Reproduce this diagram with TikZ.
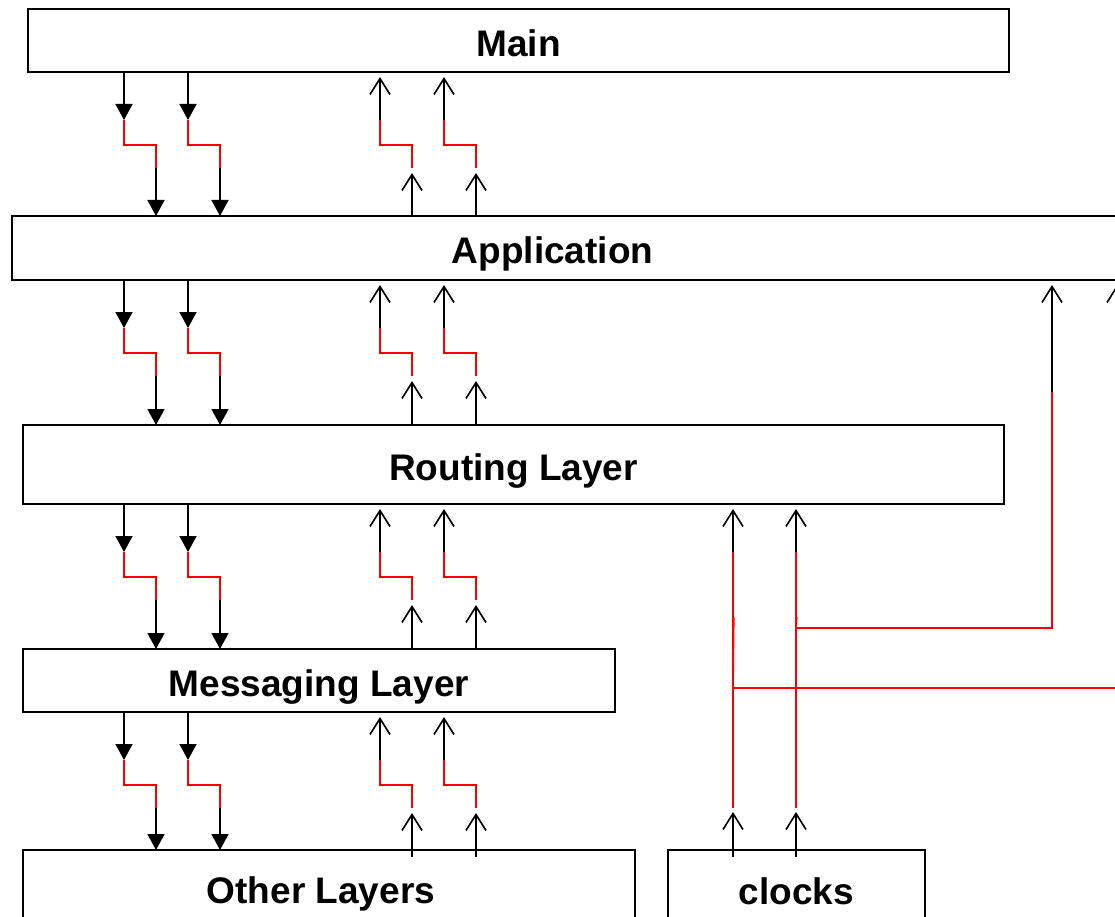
\documentclass[tikz,border=0pt]{standalone}
\usepackage{fontspec}
\setmainfont{Liberation Sans}
\usetikzlibrary{arrows.meta,calc}

\begin{document}
\begin{tikzpicture}[x=1pt,y=-1pt,
  txt/.style={font=\fontsize{37}{40}\selectfont\bfseries, text height=31.5pt, text depth=0pt},
  box/.style={draw, line width=2.6pt, inner sep=0pt, outer sep=0pt, txt},
  lbl/.style={inner sep=0pt, txt},
  wire/.style={line width=1.6pt, line cap=butt},
  port/.style={wire, red},
  dnarrow/.style={wire, -{Triangle[length=16pt,width=17pt]}},
  uparrow/.style={wire, -{Straight Barb[length=16pt,width=20pt,line width=1.6pt]}},
]
\useasboundingbox (0,0) rectangle (1115,917);
\clip (0,0) rectangle (1115,917);

% layer boxes
\node[box, minimum width=981pt, minimum height=63pt] (main) at (518.5,40.5) {Main};
\node[box, minimum width=1128pt, minimum height=64pt] (app) at (576,248) {};
\node[lbl] (apptxt) at (552.5,248) {Application};
\node[box, minimum width=981pt, minimum height=79pt] (route) at (513.5,464.5) {Routing Layer};
\node[box, minimum width=592pt, minimum height=63pt] (msg) at (319,680.5) {Messaging Layer};
\node[box, minimum width=612pt, minimum height=80pt] (other) at (329,890) {};
\node[lbl] (othertxt) at (321,887.5) {Other Layers};
\node[box, minimum width=257pt, minimum height=78pt] (clocks) at (796.5,889) {clocks};

% connector columns
\coordinate (d1) at (124,0);  \coordinate (d1b) at (156,0);
\coordinate (d2) at (188,0);  \coordinate (d2b) at (220,0);
\coordinate (u1) at (380,0);  \coordinate (u1b) at (412,0);
\coordinate (u2) at (444,0);  \coordinate (u2b) at (476,0);
\coordinate (k1) at (733,0);  \coordinate (k2) at (796,0);
\coordinate (t1) at (1052,0); \coordinate (t2) at (1117,0);

% calls down and returns up between neighbouring layers
\foreach \A/\B/\ext in {main/app/0, app/route/0, route/msg/0, msg/other/7}{
  \foreach \p/\q in {d1/d1b, d2/d2b}{
    \draw[dnarrow] (\A.south -| \p) -- ($(\A.south -| \p)+(0,48)$);
    \draw[port] ($(\A.south -| \p)+(0,48)$) -- ++(0,25) -| ($(\A.south -| \q)+(0,96)$);
    \draw[dnarrow] ($(\A.south -| \q)+(0,96)$) -- (\B.north -| \q);
  }
  \foreach \p/\q in {u1/u1b, u2/u2b}{
    \draw[uparrow] ($(\A.south -| \p)+(0,48)$) -- ($(\A.south -| \p)+(0,5)$);
    \draw[port] ($(\A.south -| \p)+(0,48)$) -- ++(0,25) -| ($(\A.south -| \q)+(0,96)$);
    \draw[uparrow] ($(\B.north -| \q)+(0,\ext)$) -- ($(\A.south -| \q)+(0,101)$);
  }
}

% clock signals
\foreach \k in {k1,k2}{
  \draw[uparrow] ($(clocks.north -| \k)+(0,7)$) -- ($(clocks.north -| \k)+(0,-38)$);
  \draw[port] ($(clocks.north -| \k)+(0,-42)$) -- ($(route.south -| \k)+(0,48)$);
  \draw[uparrow] ($(route.south -| \k)+(0,48)$) -- ($(route.south -| \k)+(0,5)$);
}

% clock branches up to the application
\coordinate (j1) at (796,628);
\coordinate (j2) at (733,688);
\draw[port] ($(j1)+(0.8,-11)$) -- (j1) -| ($(app.south -| t1)+(0,112)$);
\draw[uparrow] ($(app.south -| t1)+(0,112)$) -- ($(app.south -| t1)+(0,5)$);
\draw[port] ($(j2)+(0.8,-71)$) -- (j2) -| ($(app.south -| t2)+(0,112)$);
\draw[uparrow] ($(app.south -| t2)+(0,112)$) -- ($(app.south -| t2)+(0,5)$);
\end{tikzpicture}
\end{document}
